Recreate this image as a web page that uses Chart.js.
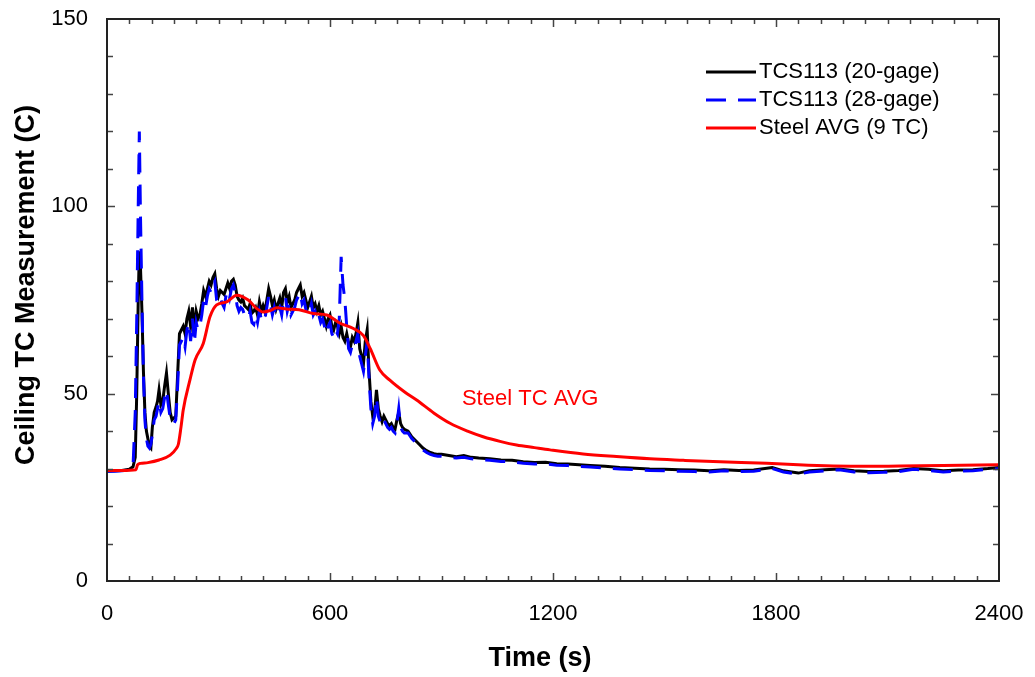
<!DOCTYPE html>
<html>
<head>
<meta charset="utf-8">
<title>Ceiling TC Measurement</title>
<script src="https://cdn.jsdelivr.net/npm/chart.js@4.4.1/dist/chart.umd.min.js"></script>
<style>
  html, body { margin: 0; padding: 0; background: #fff; }
</style>
</head>
<body>
<canvas id="chart" width="1035" height="677"></canvas>
<script>
// time axis (s) shared by both TCS113 traces
const tcTimes = [
  0, 20, 40, 60, 70, 76, 80, 84, 87, 90, 94, 98, 102, 106, 110, 114, 118, 122, 127, 132, 136, 140, 145,
  150, 155, 160, 165, 170, 175, 180, 185, 190, 195,
  200, 205, 210, 215, 220, 225, 230, 235, 240, 245,
  250, 255, 260, 265, 270, 275, 280, 285, 290, 295,
  300, 305, 310, 315, 320, 325, 330, 335, 340, 345,
  350, 355, 360, 365, 370, 375, 380, 385, 390, 395,
  400, 405, 410, 415, 420, 425, 430, 435, 440, 445,
  450, 455, 460, 465, 470, 475, 480, 485, 490, 495,
  500, 505, 510, 515, 520, 525, 530, 535, 540, 545,
  550, 555, 560, 565, 570, 575, 580, 585, 590, 595,
  600, 605, 610, 615, 620, 625, 630, 635, 640, 645,
  650, 655, 660, 665, 670, 675, 680, 685, 690, 695,
  700, 705, 710, 715, 720, 725, 730, 735, 740, 745,
  750, 755, 760, 765, 770, 775, 780, 785, 790, 795,
  800,
  810, 820, 830, 840, 850, 860, 870, 880, 890, 900,
  920, 940, 960, 980, 1000,
  1030, 1060, 1090, 1120, 1150, 1180, 1210, 1240, 1270, 1300,
  1340, 1380, 1420, 1460, 1500, 1540, 1580, 1620, 1660, 1700, 1740,
  1790, 1820, 1860, 1890,
  1930, 1970, 2010, 2050, 2090, 2130, 2170, 2210, 2250, 2290, 2330, 2370,
  2400
];

// TCS113 (20-gage)
const tcs20 = [
  29.3, 29.4, 29.5, 29.8, 30.5, 33, 50, 75, 88, 84, 72, 56, 45, 40, 38, 36, 35.5, 41, 45, 46.5, 48, 51, 47,
  48, 52, 55.5, 50, 45, 43, 43.5, 44, 55, 66,
  67, 68, 66, 70, 72, 68, 73, 67, 72, 70,
  71, 74, 77.5, 76, 78, 80, 79, 81, 82, 78,
  76, 77.5, 77, 76.5, 78, 79.5, 78, 80, 80.5, 79,
  76, 75, 74.5, 75.5, 73.5, 73, 72.5, 74, 71.5, 72,
  73, 71, 74.5, 72, 73.5, 72, 75, 78, 76, 73.5,
  75, 72.5, 74, 75.5, 73, 77, 78, 74.5, 76, 73,
  74, 75, 77, 78, 79, 76, 77, 75, 73, 74.5,
  76, 73, 74, 72, 73.5, 71, 72, 70, 68, 70,
  71, 68, 67, 69, 68, 66, 68, 65, 64, 66,
  63.5, 62.5, 65, 64, 66, 69, 62, 60, 58, 64,
  67, 56, 48, 44, 45, 51, 46, 44, 42.5, 44,
  43, 42, 41.5, 42, 41, 40.5, 43, 45, 42, 41,
  40.5,
  40, 38.5, 37.5, 36.5, 35.5, 34.8, 34.3, 34, 33.8, 33.8,
  33.5, 33.2, 33.5, 33, 32.8,
  32.6, 32.3, 32.2, 31.8, 31.6, 31.7, 31.3, 31.2, 31, 30.8,
  30.6, 30.3, 30.1, 29.9, 29.8, 29.7, 29.6, 29.4, 29.7, 29.5, 29.6,
  30.3, 29.4, 28.8, 29.4,
  29.7, 29.9, 29.4, 29.2, 29.3, 29.5, 30, 29.8, 29.4, 29.6, 29.7, 30,
  30.3
];

// TCS113 (28-gage)
const tcs28 = [
  29.3, 29.3, 29.4, 29.6, 30.5, 45, 70, 100, 120, 98, 75, 55, 43, 38, 36, 35.5, 36.5, 39, 43, 44, 46, 48, 45,
  46, 49, 51, 47, 43.5, 42, 42, 43, 52, 63,
  64, 65, 62.5, 67, 69, 64, 70, 63.5, 69, 67,
  68, 71, 75, 73, 76, 78, 77, 79, 80, 75,
  74, 75.5, 74, 73, 76, 77.5, 75.5, 78, 79, 77,
  73.5, 72, 73, 72.5, 71, 70.5, 70, 72, 69, 68.5,
  71, 69, 72, 70, 71, 70, 73, 76, 73.5, 71,
  73, 70.5, 72, 73, 71, 75, 76, 72, 74, 71,
  72, 73, 75, 76, 77, 74, 75, 72.5, 71, 72,
  74, 71, 72, 70, 71, 69, 70, 68, 66, 68,
  69, 66, 65, 67, 66, 70, 86.5, 79, 75, 68,
  62, 61, 63, 62, 64, 66, 60, 58, 56, 60,
  64, 54, 46, 42, 44, 49, 44, 42.5, 41.5, 43,
  42, 41, 40.5, 41, 40, 39.5, 42, 46, 41, 40,
  39.5,
  39.5, 38, 37, 36, 35, 34.3, 33.8, 33.5, 33.3, 33.3,
  33, 32.8, 33, 32.6, 32.4,
  32.2, 31.9, 31.8, 31.4, 31.2, 31.3, 30.9, 30.8, 30.6, 30.4,
  30.2, 29.9, 29.7, 29.5, 29.4, 29.3, 29.2, 29.1, 29.4, 29.2, 29.3,
  30, 29.1, 28.5, 29.1,
  29.4, 29.7, 29.1, 28.9, 29, 29.2, 29.8, 29.5, 29.1, 29.3, 29.4, 29.8,
  30
];

// Steel AVG (9 TC)
const steelTimes = [
  0, 40, 78, 82, 90, 110, 140, 170, 186, 192,
  199, 205, 223, 237, 259, 277, 295, 322, 349, 380,
  403, 421, 439, 457, 483, 517, 555, 591, 627, 663,
  690, 708, 734, 761, 800, 833, 880, 923, 970, 1012,
  1060, 1102, 1150, 1192, 1281, 1371, 1461, 1551, 1650, 1775,
  1860, 1954, 2050, 2134, 2250, 2400
];
const steelAvg = [
  29.5, 29.5, 29.7, 31, 31.4, 31.6, 32.3, 33.6, 35.3, 36.5,
  41, 45.6, 53.6, 59, 63.4, 70.5, 73.7, 74.5, 76.3, 75,
  72.7, 71.8, 72.2, 72.9, 72.6, 72.4, 71.4, 71, 68.8, 67.4,
  65.5, 62.1, 56.3, 53.6, 50.5, 48.3, 44.8, 42.1, 40, 38.5,
  37.2, 36.3, 35.6, 35, 33.9, 33.2, 32.6, 32.2, 31.8, 31.4,
  31, 30.7, 30.6, 30.7, 30.8, 31
];

const seriesLabels = ['TCS113 (20-gage)', 'TCS113 (28-gage)', 'Steel AVG (9 TC)'];
const xTicks = [0, 600, 1200, 1800, 2400];
const yTicks = [0, 50, 100, 150];
const xTitle = 'Time (s)';
const yTitle = 'Ceiling TC Measurement (C)';
const noteText = 'Steel TC AVG';
const notePos = [955, 48.6];

const FONT = '"Liberation Sans", Arial, sans-serif';
Chart.defaults.font.family = FONT;
Chart.defaults.font.size = 22;
Chart.defaults.color = '#000';

function pts(xs, ys) {
  return xs.map((x, i) => ({ x: x, y: ys[i] }));
}

// frame with inward tick marks on all four sides, plus the red note
const frameTicks = {
  id: 'frameTicks',
  afterDatasetsDraw(chart) {
    const { ctx, chartArea: a, scales: { x, y } } = chart;
    ctx.save();
    ctx.strokeStyle = '#444';
    ctx.lineWidth = 1.5;
    ctx.beginPath();
    for (let t = 60; t < 2400; t += 60) {
      const px = Math.round(x.getPixelForValue(t)) + 0.5;
      const len = t % 600 === 0 ? 8 : 5;
      ctx.moveTo(px, a.bottom); ctx.lineTo(px, a.bottom - len);
      ctx.moveTo(px, a.top); ctx.lineTo(px, a.top + len);
    }
    for (let v = 10; v < 150; v += 10) {
      const py = Math.round(y.getPixelForValue(v)) + 0.5;
      const len = v % 50 === 0 ? 8 : 6;
      ctx.moveTo(a.left, py); ctx.lineTo(a.left + len, py);
      ctx.moveTo(a.right, py); ctx.lineTo(a.right - len, py);
    }
    ctx.stroke();
    ctx.strokeStyle = '#222';
    ctx.lineWidth = 2;
    ctx.strokeRect(a.left, a.top, a.right - a.left, a.bottom - a.top);

    ctx.fillStyle = '#ff0000';
    ctx.font = '22px ' + FONT;
    ctx.textAlign = 'left';
    ctx.textBaseline = 'middle';
    ctx.fillText(noteText, x.getPixelForValue(notePos[0]), y.getPixelForValue(notePos[1]));
    ctx.restore();
  }
};

// legend in the upper right of the plot, axis titles
const boxLegend = {
  id: 'boxLegend',
  afterDraw(chart) {
    const { ctx } = chart;
    ctx.save();
    ctx.font = '22px ' + FONT;
    ctx.textBaseline = 'middle';
    ctx.textAlign = 'left';
    chart.data.datasets.forEach((ds, row) => {
      const yy = 72 + row * 28;
      ctx.strokeStyle = ds.borderColor;
      ctx.lineWidth = 3;
      ctx.setLineDash(ds.borderDash || []);
      ctx.beginPath();
      ctx.moveTo(706, yy);
      ctx.lineTo(756, yy);
      ctx.stroke();
      ctx.setLineDash([]);
      ctx.fillStyle = '#000';
      ctx.fillText(ds.label, 759, yy);
    });

    ctx.font = 'bold 27px ' + FONT;
    ctx.textAlign = 'center';
    ctx.fillText(xTitle, 540, 659);
    ctx.translate(27, 285);
    ctx.rotate(-Math.PI / 2);
    ctx.fillText(yTitle, 0, 0);
    ctx.restore();
  }
};

function noPad(s) {
  s.paddingLeft = 0; s.paddingRight = 0; s.paddingTop = 0; s.paddingBottom = 0;
}

new Chart(document.getElementById('chart'), {
  type: 'line',
  data: {
    datasets: [
      {
        label: seriesLabels[0],
        data: pts(tcTimes, tcs20),
        borderColor: '#000000',
        borderWidth: 3,
        pointRadius: 0,
        order: 2
      },
      {
        label: seriesLabels[1],
        data: pts(tcTimes, tcs28),
        borderColor: '#0000ff',
        borderWidth: 3,
        borderDash: [20, 12],
        pointRadius: 0,
        order: 1
      },
      {
        label: seriesLabels[2],
        data: pts(steelTimes, steelAvg),
        borderColor: '#ff0000',
        borderWidth: 3,
        pointRadius: 0,
        cubicInterpolationMode: 'monotone',
        order: 0
      }
    ]
  },
  options: {
    responsive: false,
    animation: false,
    layout: { padding: { left: 0, top: 19, right: 36, bottom: 0 } },
    plugins: {
      legend: { display: false },
      tooltip: { enabled: false }
    },
    scales: {
      x: {
        type: 'linear',
        min: 0,
        max: 2400,
        afterBuildTicks: s => { s.ticks = xTicks.map(v => ({ value: v })); },
        ticks: { padding: 20, maxRotation: 0, color: '#000', callback: v => String(v) },
        grid: { display: false, drawTicks: false },
        border: { display: false },
        afterFit: s => { s.height = 96; noPad(s); }
      },
      y: {
        type: 'linear',
        min: 0,
        max: 150,
        afterBuildTicks: s => { s.ticks = yTicks.map(v => ({ value: v })); },
        ticks: { padding: 19, color: '#000', callback: v => String(v) },
        grid: { display: false, drawTicks: false },
        border: { display: false },
        afterFit: s => { s.width = 107; noPad(s); }
      }
    }
  },
  plugins: [frameTicks, boxLegend]
});
</script>
</body>
</html>
